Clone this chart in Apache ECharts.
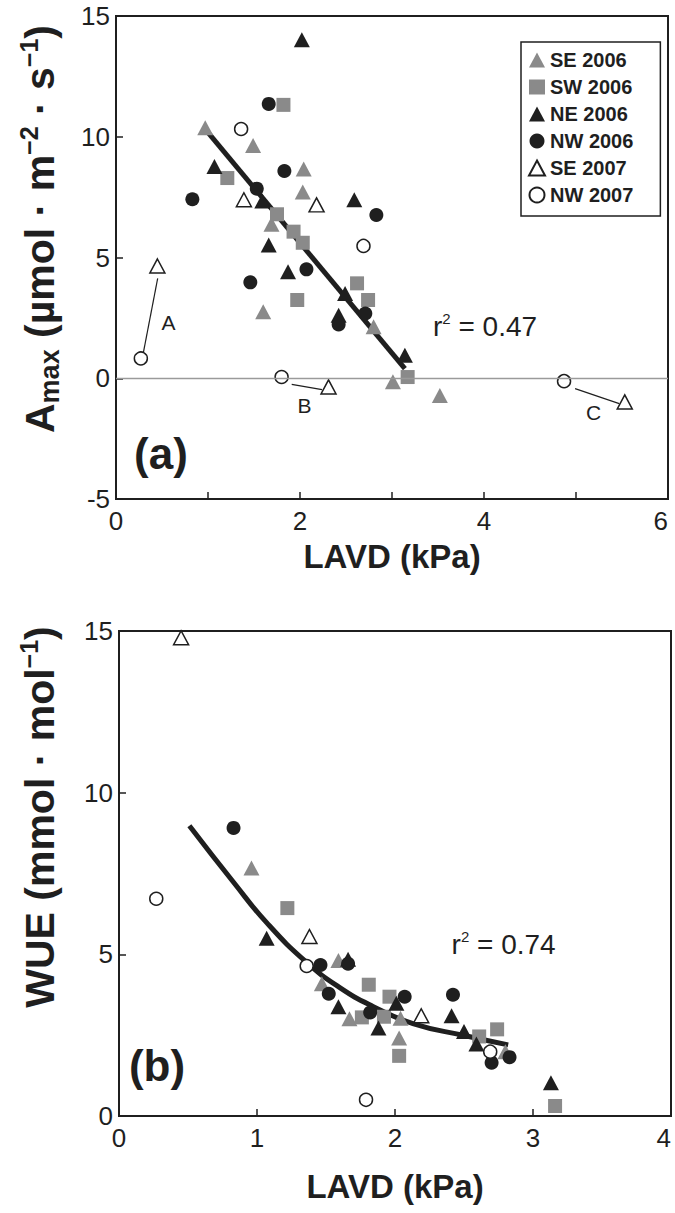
<!DOCTYPE html>
<html>
<head>
<meta charset="utf-8">
<script src="https://cdn.jsdelivr.net/npm/echarts/dist/echarts.min.js"></script>
<style>
  html, body { margin: 0; padding: 0; background: #ffffff; }
  #chart { width: 675px; height: 1213px; }
</style>
</head>
<body>
<div id="chart"></div>
<script>
// ---- data ---------------------------------------------------------------
const groupNames = ['SE 2006', 'SW 2006', 'NE 2006', 'NW 2006', 'SE 2007', 'NW 2007'];

// axis ticks (min, step, max)
const lavdTicksA = [0, 2, 4, 6];
const amaxTicks = [-5, 0, 5, 10, 15];
const lavdTicksB = [0, 1, 2, 3, 4];
const wueTicks = [0, 5, 10, 15];

// (a) Amax vs LAVD, [LAVD kPa, Amax µmol m-2 s-1]
const amaxSE2006 = [[0.97, 10.37], [1.49, 9.64], [2.04, 8.66], [2.03, 7.71], [1.69, 6.38],
                    [1.60, 2.75], [2.80, 2.13], [3.01, -0.15], [3.52, -0.71]];
const amaxSW2006 = [[1.82, 11.32], [1.21, 8.29], [1.75, 6.79], [1.93, 6.07], [2.03, 5.61],
                    [2.62, 3.93], [2.74, 3.24], [1.97, 3.24], [3.17, 0.05]];
const amaxNE2006 = [[2.02, 14.02], [1.07, 8.77], [1.59, 7.34], [2.59, 7.39], [1.66, 5.52],
                    [1.87, 4.41], [2.49, 3.51], [2.42, 2.61], [3.14, 0.95]];
const amaxNW2006 = [[1.66, 11.36], [1.83, 8.58], [0.83, 7.41], [1.53, 7.85], [2.83, 6.76],
                    [2.07, 4.51], [1.46, 3.97], [2.71, 2.68], [2.42, 2.23]];
const amaxSE2007 = [[1.39, 7.39], [2.18, 7.18], [0.45, 4.65], [2.31, -0.36], [5.53, -0.98]];
const amaxNW2007 = [[1.36, 10.32], [2.69, 5.48], [0.27, 0.82], [1.80, 0.05], [4.87, -0.12]];
const amaxFit = [[0.99, 10.22], [3.14, 0.40]];
const amaxR2 = '0.47';

// paired 2007 measurements (A, B, C)
const pairLinkA = [[0.453, 4.14], [0.297, 1.05]];
const pairLinkB = [[1.91, -0.25], [2.24, -0.47]];
const pairLinkC = [[4.99, -0.43], [5.47, -1.05]];
const pairTags = [['A', 0.57, 2.29], ['B', 2.05, -1.11], ['C', 5.19, -1.41]];

// (b) WUE vs LAVD, [LAVD kPa, WUE mmol mol-1]
const wueSE2006 = [[0.96, 7.67], [1.59, 4.81], [1.47, 4.09], [1.67, 3.01], [2.04, 3.02],
                   [2.03, 2.41], [2.80, 1.99]];
const wueSW2006 = [[1.22, 6.43], [1.81, 4.06], [1.96, 3.69], [1.76, 3.05], [1.92, 3.07],
                   [2.03, 1.86], [2.74, 2.68], [2.61, 2.46], [3.16, 0.31]];
const wueNE2006 = [[1.07, 5.50], [1.66, 4.85], [1.59, 3.38], [2.01, 3.49], [1.88, 2.72],
                   [2.41, 3.10], [2.50, 2.61], [2.59, 2.23], [3.13, 1.03]];
const wueNW2006 = [[0.83, 8.91], [1.46, 4.67], [1.66, 4.71], [1.52, 3.78], [1.82, 3.20],
                   [2.07, 3.69], [2.42, 3.75], [2.70, 1.65], [2.83, 1.82]];
const wueSE2007 = [[0.45, 14.79], [1.38, 5.55], [2.19, 3.10]];
const wueNW2007 = [[0.27, 6.72], [1.36, 4.64], [2.69, 1.99], [1.79, 0.50]];
const wueFit = [[0.51, 8.98], [0.83, 7.23], [1.07, 5.98], [1.36, 4.75], [1.60, 3.97],
                [1.84, 3.39], [2.13, 2.86], [2.51, 2.48], [2.82, 2.20]];
const wueR2 = '0.74';

// label anchors (left edge, vertical middle) in data units
const amaxR2At = [3.446, 2.13];
const wueR2At = [2.41, 5.29];

// ---- styling ------------------------------------------------------------
const FONT = '"Liberation Sans", Arial, Helvetica, sans-serif';
const INK = '#1f1f1f';
const GREY = '#8a8a8a';

const markStyle = {
  'SE 2006': { symbol: 'triangle', size: [16, 15], fill: GREY },
  'SW 2006': { symbol: 'rect', size: 14, fill: GREY },
  'NE 2006': { symbol: 'triangle', size: [16, 15], fill: INK },
  'NW 2006': { symbol: 'circle', size: 14, fill: INK },
  'SE 2007': { symbol: 'triangle', size: [15, 14], fill: '#ffffff', stroke: INK },
  'NW 2007': { symbol: 'circle', size: 13, fill: '#ffffff', stroke: INK }
};

const panelA = {
  'SE 2006': amaxSE2006, 'SW 2006': amaxSW2006, 'NE 2006': amaxNE2006,
  'NW 2006': amaxNW2006, 'SE 2007': amaxSE2007, 'NW 2007': amaxNW2007
};
const panelB = {
  'SE 2006': wueSE2006, 'SW 2006': wueSW2006, 'NE 2006': wueNE2006,
  'NW 2006': wueNW2006, 'SE 2007': wueSE2007, 'NW 2007': wueNW2007
};

function groupSeries(name, data, idx) {
  const s = markStyle[name];
  return {
    type: 'scatter', name: name, xAxisIndex: idx, yAxisIndex: idx, data: data,
    symbol: s.symbol, symbolSize: s.size, z: 4, silent: true,
    itemStyle: {
      color: s.fill, opacity: 1,
      borderColor: s.stroke || s.fill, borderWidth: s.stroke ? 1.5 : 0
    }
  };
}

function lineSeries(data, idx, width, smooth) {
  return {
    type: 'line', xAxisIndex: idx, yAxisIndex: idx, data: data, smooth: smooth,
    showSymbol: false, symbol: 'none', silent: true, z: 3,
    lineStyle: { color: INK, width: width, cap: 'butt' }
  };
}

function valueAxis(idx, ticks, labelMargin) {
  return {
    type: 'value', gridIndex: idx,
    min: ticks[0], max: ticks[ticks.length - 1], interval: ticks[1] - ticks[0],
    axisLine: { show: true, onZero: false, lineStyle: { color: INK, width: 2 } },
    axisTick: { show: true, inside: true, length: 7, lineStyle: { color: INK, width: 1.5 } },
    axisLabel: { fontFamily: FONT, fontSize: 26, color: INK, margin: labelMargin },
    splitLine: { show: false }
  };
}

const series = [];
series.push(Object.assign(lineSeries(amaxFit, 0, 5, false), {
  markLine: {
    silent: true, symbol: 'none', animation: false,
    label: { show: false },
    lineStyle: { color: '#9a9a9a', width: 1.3, type: 'solid' },
    data: [{ yAxis: 0 }]
  }
}));
[pairLinkA, pairLinkB, pairLinkC].forEach(function (seg) {
  const s = lineSeries(seg, 0, 1.2, false);
  s.z = 2;
  series.push(s);
});
groupNames.forEach(function (n) { series.push(groupSeries(n, panelA[n], 0)); });
series.push(lineSeries(wueFit, 1, 5, true));
groupNames.forEach(function (n) { series.push(groupSeries(n, panelB[n], 1)); });

// x axes: the last label sits flush with the right frame so it stays on the page
const xA = valueAxis(0, lavdTicksA, 9);
xA.minorTick = { show: true, splitNumber: 2, length: 7, lineStyle: { color: INK, width: 1.5 } };
xA.axisLabel.alignMaxLabel = 'right';
const xB = valueAxis(1, lavdTicksB, 9);
xB.axisLabel.alignMaxLabel = 'right';

const chart = echarts.init(document.getElementById('chart'), null, { renderer: 'svg' });
chart.setOption({
  animation: false,
  backgroundColor: '#ffffff',
  textStyle: { fontFamily: FONT },
  grid: [
    { left: 116, top: 16, width: 552, height: 483, outerBoundsMode: 'none', containLabel: false,
      show: true, borderColor: INK, borderWidth: 2, backgroundColor: 'transparent' },
    { left: 119, top: 631, width: 552, height: 485, outerBoundsMode: 'none', containLabel: false,
      show: true, borderColor: INK, borderWidth: 2, backgroundColor: 'transparent' }
  ],
  xAxis: [xA, xB],
  yAxis: [valueAxis(0, amaxTicks, 6), valueAxis(1, wueTicks, 6)],
  legend: {
    data: groupNames, orient: 'vertical', left: 521, top: 42,
    padding: [8, 27, 11, 7], itemWidth: 16, itemHeight: 15, itemGap: 7,
    borderColor: INK, borderWidth: 1.5, backgroundColor: '#ffffff',
    selectedMode: false,
    textStyle: { fontFamily: FONT, fontSize: 20, fontWeight: 'bold', color: INK, lineHeight: 20 }
  },
  series: series
});

// ---- text placed in data coordinates and fixed page positions -------------
function at(gridIndex, pt) { return chart.convertToPixel({ gridIndex: gridIndex }, pt); }

const r2Rich = {
  t: { fontFamily: FONT, fontSize: 28, fill: INK, lineHeight: 32 },
  s: { fontFamily: FONT, fontSize: 15, fill: INK, lineHeight: 16, verticalAlign: 'top' }
};
function r2Text(value, gridIndex, pt) {
  const p = at(gridIndex, pt);
  return {
    type: 'text', x: p[0], y: p[1], silent: true, z: 10,
    style: { text: '{t|r}{s|2}{t| = ' + value + '}', align: 'left', verticalAlign: 'middle', rich: r2Rich }
  };
}

const graphics = [];
pairTags.forEach(function (t) {
  const p = at(0, [t[1], t[2]]);
  graphics.push({
    type: 'text', x: p[0], y: p[1], silent: true, z: 10,
    style: { text: t[0], font: '21px ' + FONT, fill: INK, align: 'center', verticalAlign: 'middle' }
  });
});
graphics.push(r2Text(amaxR2, 0, amaxR2At));
graphics.push(r2Text(wueR2, 1, wueR2At));

graphics.push(
  {
    type: 'text', x: 40, y: 229, rotation: Math.PI / 2, silent: true,
    style: {
      text: '{b|A}{sub|max}{b| (µmol · m}{sup|−2}{b| · s}{sup|−1}{b|)}',
      align: 'center', verticalAlign: 'middle',
      rich: {
        b: { fontFamily: FONT, fontSize: 41, fontWeight: 'bold', fill: INK, lineHeight: 47 },
        sub: { fontFamily: FONT, fontSize: 27, fontWeight: 'bold', fill: INK, lineHeight: 27, verticalAlign: 'bottom' },
        sup: { fontFamily: FONT, fontSize: 25, fontWeight: 'bold', fill: INK, lineHeight: 25, verticalAlign: 'top' }
      }
    }
  },
  {
    type: 'text', x: 40, y: 817, rotation: Math.PI / 2, silent: true,
    style: {
      text: '{b|WUE (mmol · mol}{sup|−1}{b|)}',
      align: 'center', verticalAlign: 'middle',
      rich: {
        b: { fontFamily: FONT, fontSize: 41, fontWeight: 'bold', fill: INK, lineHeight: 47 },
        sup: { fontFamily: FONT, fontSize: 25, fontWeight: 'bold', fill: INK, lineHeight: 25, verticalAlign: 'top' }
      }
    }
  },
  {
    type: 'text', x: 392, y: 556, silent: true,
    style: { text: 'LAVD (kPa)', font: 'bold 33px ' + FONT, fill: INK, align: 'center', verticalAlign: 'middle' }
  },
  {
    type: 'text', x: 395, y: 1186, silent: true,
    style: { text: 'LAVD (kPa)', font: 'bold 33px ' + FONT, fill: INK, align: 'center', verticalAlign: 'middle' }
  },
  {
    type: 'text', x: 161, y: 453, silent: true,
    style: { text: '(a)', font: 'bold 44px ' + FONT, fill: INK, align: 'center', verticalAlign: 'middle' }
  },
  {
    type: 'text', x: 157, y: 1065, silent: true,
    style: { text: '(b)', font: 'bold 44px ' + FONT, fill: INK, align: 'center', verticalAlign: 'middle' }
  }
);

chart.setOption({ graphic: graphics });
</script>
</body>
</html>
